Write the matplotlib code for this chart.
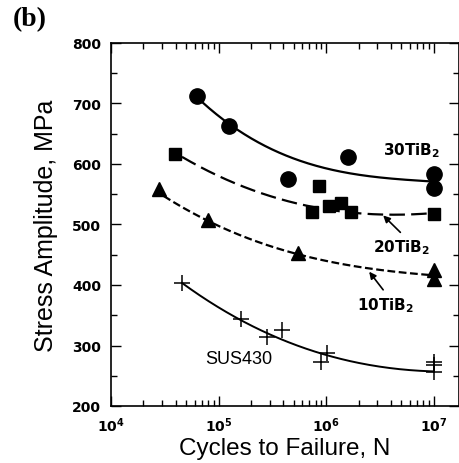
import numpy as np
import matplotlib
matplotlib.use('Agg')
import matplotlib.pyplot as plt
from matplotlib.ticker import FixedLocator, LogLocator, MultipleLocator, NullFormatter

plt.rcParams['font.family'] = ['Liberation Sans', 'DejaVu Sans']
plt.rcParams['mathtext.fontset'] = 'custom'
plt.rcParams['mathtext.rm'] = 'DejaVu Sans'
plt.rcParams['mathtext.bf'] = 'DejaVu Sans:bold'

# measured points
# 30TiB2 (circles)
n_30 = [6.3e4, 1.26e5, 4.4e5, 1.6e6, 1.0e7, 1.0e7]
s_30 = [712, 662, 576, 611, 583, 561]
# 20TiB2 (squares)
n_20 = [3.9e4, 8.5e5, 7.4e5, 1.07e6, 1.37e6, 1.7e6, 1.0e7]
s_20 = [616, 563, 521, 530, 535, 520, 518]
# 10TiB2 (triangles)
n_10 = [2.8e4, 7.9e4, 5.5e5, 1.0e7, 1.0e7]
s_10 = [558, 508, 453, 425, 410]
# SUS430 (crosses)
n_sus = [4.6e4, 1.6e5, 2.8e5, 3.9e5, 9.0e5, 1.02e6, 1.0e7, 1.0e7, 1.0e7]
s_sus = [404, 344, 314, 326, 273, 288, 273, 268, 256]

# fitted S-N curves (log10 N, stress)
curve_30_logn = [4.85, 5.09, 5.39, 5.70, 6.01, 6.32, 6.63, 6.94, 7.0]
curve_30_s = [704, 663, 635, 611, 592, 581, 575, 572, 571]
curve_20_logn = [4.66, 4.92, 5.23, 5.54, 5.85, 6.32, 6.79, 7.0]
curve_20_s = [611, 588, 563, 544, 528, 519, 518, 518]
curve_10_logn = [4.49, 4.89, 5.23, 5.73, 6.17, 6.63, 6.97]
curve_10_s = [547, 508, 478, 453, 434, 421, 417]
curve_sus_logn = [4.66, 5.20, 5.45, 6.01, 6.48, 7.0]
curve_sus_s = [403, 345, 318, 284, 266, 257]

fig = plt.figure(figsize=(4.59, 4.64), dpi=100)
ax = fig.add_axes([111/459, 1-407/464, 348/459, 363/464])


def draw_curve(logn, s, **kw):
    p = np.polyfit(logn, s, 3)
    xx = np.linspace(min(logn), max(logn), 200)
    ax.plot(10**xx, np.polyval(p, xx), color='black', **kw)


draw_curve(curve_30_logn, curve_30_s, lw=1.6)
draw_curve(curve_20_logn, curve_20_s, lw=1.6, dashes=(7, 2.8))
draw_curve(curve_10_logn, curve_10_s, lw=1.6, dashes=(3.5, 1.6))
draw_curve(curve_sus_logn, curve_sus_s, lw=1.4)

ax.plot(n_30, s_30, 'o', color='black', ms=11, ls='none')
ax.plot(n_20, s_20, 's', color='black', ms=9, ls='none')
ax.plot(n_10, s_10, '^', color='black', ms=9.5, ls='none')
ax.plot(n_sus, s_sus, '+', color='black', ms=11, mew=1.1, ls='none')

ax.set_xscale('log')
ax.set_xlim(1e4, 10**7.235)
ax.set_ylim(200, 800)

ax.xaxis.set_major_locator(FixedLocator([1e4, 1e5, 1e6, 1e7]))
ax.set_xticklabels([r'$\mathbf{10^{4}}$', r'$\mathbf{10^{5}}$', r'$\mathbf{10^{6}}$', r'$\mathbf{10^{7}}$'])
ax.xaxis.set_minor_locator(LogLocator(base=10, subs=np.arange(2, 10), numticks=20))
ax.xaxis.set_minor_formatter(NullFormatter())
ax.yaxis.set_major_locator(MultipleLocator(100))
ax.yaxis.set_minor_locator(MultipleLocator(50))

ax.tick_params(which='both', direction='in', top=True, right=True, width=1.0)
ax.tick_params(which='major', length=7, labelsize=10, pad=7)
ax.tick_params(which='minor', length=4)
for lab in ax.get_yticklabels():
    lab.set_fontweight('bold')
    lab.set_family('DejaVu Sans')
for sp in ax.spines.values():
    sp.set_linewidth(1.2)

ax.set_xlabel('Cycles to Failure, N', fontsize=17.5, labelpad=2)
ax.set_ylabel('Stress Amplitude, MPa', fontsize=18, labelpad=10)

lab_kw = dict(fontsize=11, fontweight='bold', family='DejaVu Sans', va='center')
arr_kw = dict(arrowstyle='-|>', color='black', lw=1.2, shrinkA=0, shrinkB=0, mutation_scale=10)
ax.text(3.4e6, 624, r'30TiB$_{\mathbf{2}}$', **lab_kw)
ax.text(2.7e6, 463, r'20TiB$_{\mathbf{2}}$', **lab_kw)
ax.annotate('', xy=(10**6.53, 515), xytext=(10**6.69, 487), arrowprops=arr_kw)
ax.text(1.95e6, 367, r'10TiB$_{\mathbf{2}}$', **lab_kw)
ax.annotate('', xy=(10**6.40, 422), xytext=(10**6.53, 392), arrowprops=arr_kw)
ax.text(7.5e4, 279, 'SUS430', fontsize=13, va='center')

fig.text(13/459, 1-20/464, '(b)', fontsize=20, fontweight='bold', family='Liberation Serif', va='center')

fig.savefig('out.png', dpi=100)
